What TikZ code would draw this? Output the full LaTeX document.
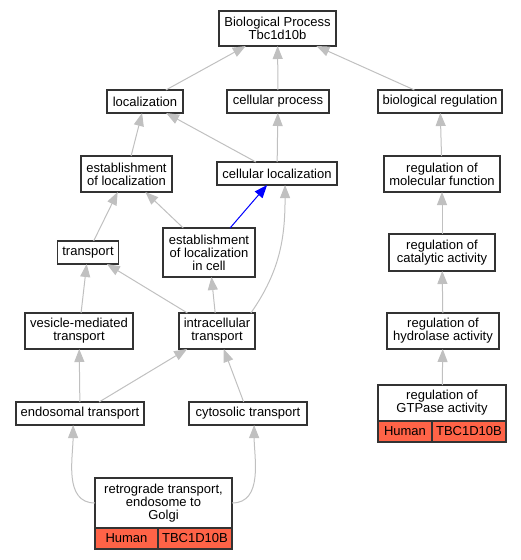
\documentclass[tikz,border=0pt]{standalone}
\usepackage{fontspec}
\setmainfont{Liberation Sans}
\usetikzlibrary{arrows.meta}
\definecolor{edgegray}{RGB}{192,192,192}
\definecolor{hitred}{RGB}{255,99,71}
\begin{document}
\begin{tikzpicture}[x=1pt,y=-1pt,
    term/.style={draw=black!80,line width=1.1pt,fill=white,rectangle,inner sep=0pt,outer sep=0pt,align=center,font=\fontsize{13}{13}\selectfont},
    cell/.style={term,fill=hitred,minimum height=21pt,anchor=north west},
    isa/.style={draw=edgegray,line width=1pt,-{Triangle[length=13pt,width=10pt]}},
    partof/.style={isa,draw=blue}]
        \useasboundingbox (0,0) rectangle (520,560);
        %% Terms
        \node[term,minimum width=117pt,minimum height=35pt] (bp) at (277.5,28.5) {Biological Process\\Tbc1d10b};
        \node[term,minimum width=76pt,minimum height=23pt] (loc) at (145,101.5) {localization};
        \node[term,minimum width=102pt,minimum height=23pt] (cellproc) at (278,101.5) {cellular process};
        \node[term,minimum width=124pt,minimum height=23pt] (bioreg) at (440,101.5) {biological regulation};
        \node[term,minimum width=91pt,minimum height=36pt] (estloc) at (126.5,174) {establishment\\of localization};
        \node[term,minimum width=120pt,minimum height=23pt] (cellloc) at (277,173.5) {cellular localization};
        \node[term,minimum width=116pt,minimum height=36pt] (regmol) at (442,174) {regulation of\\molecular function};
        \node[term,minimum width=61pt,minimum height=23pt] (transport) at (88,252.5) {transport};
        \node[term,minimum width=92pt,minimum height=49pt] (estcell) at (209,252.5) {establishment\\of localization\\in cell};
        \node[term,minimum width=106pt,minimum height=37pt] (regcat) at (442,252.5) {regulation of\\catalytic activity};
        \node[term,minimum width=108pt,minimum height=36pt] (vesicle) at (79,331) {vesicle-mediated\\transport};
        \node[term,minimum width=76pt,minimum height=36pt] (intra) at (217,331) {intracellular\\transport};
        \node[term,minimum width=112pt,minimum height=36pt] (reghyd) at (443,331) {regulation of\\hydrolase activity};
        \node[term,minimum width=128pt,minimum height=23pt] (endo) at (80,413.5) {endosomal transport};
        \node[term,minimum width=118pt,minimum height=23pt] (cyto) at (248,413.5) {cytosolic transport};
        %% Annotated terms
        \node[term,minimum width=128pt,minimum height=36pt] (gtp) at (442,403) {regulation of\\GTPase activity};
        \node[cell,minimum width=54pt] (gtphuman) at (gtp.south west) {Human};
        \node[cell,minimum width=74pt] (gtpgene) at (gtphuman.north east) {TBC1D10B};
        \node[term,minimum width=137pt,minimum height=50pt] (retro) at (163.5,503) {retrograde transport,\\endosome to\\Golgi};
        \node[cell,minimum width=63pt] (retrohuman) at (retro.south west) {Human};
        \node[cell,minimum width=74pt] (retrogene) at (retrohuman.north east) {TBC1D10B};
        %% Edges
        \draw[isa] (loc) -- (bp);
        \draw[isa] (cellproc) -- (bp);
        \draw[isa] (bioreg) -- (bp);
        \draw[isa] (estloc) -- (loc);
        \draw[isa] (cellloc) -- (loc);
        \draw[isa] (cellloc) -- (cellproc);
        \draw[isa] (regmol) -- (bioreg);
        \draw[isa] (transport) -- (estloc);
        \draw[isa] (estcell) -- (estloc);
        \draw[partof] (estcell) -- (cellloc);
        \draw[isa] (regcat) -- (regmol);
        \draw[isa] (vesicle) -- (transport);
        \draw[isa] (intra) -- (transport);
        \draw[isa] (intra) -- (estcell);
        \draw[isa] (intra.28) to[out=55,in=-90] (cellloc.-55);
        \draw[isa] (reghyd) -- (regcat);
        \draw[isa] (endo) -- (vesicle);
        \draw[isa] (endo) -- (intra);
        \draw[isa] (cyto) -- (intra);
        \draw[isa] (gtp) -- (reghyd);
        \draw[isa] (retro.west) to[out=180,in=-90] (endo.-121);
        \draw[isa] (retro.east) to[out=0,in=-90] (cyto.-62);
    \end{tikzpicture}
\end{document}
